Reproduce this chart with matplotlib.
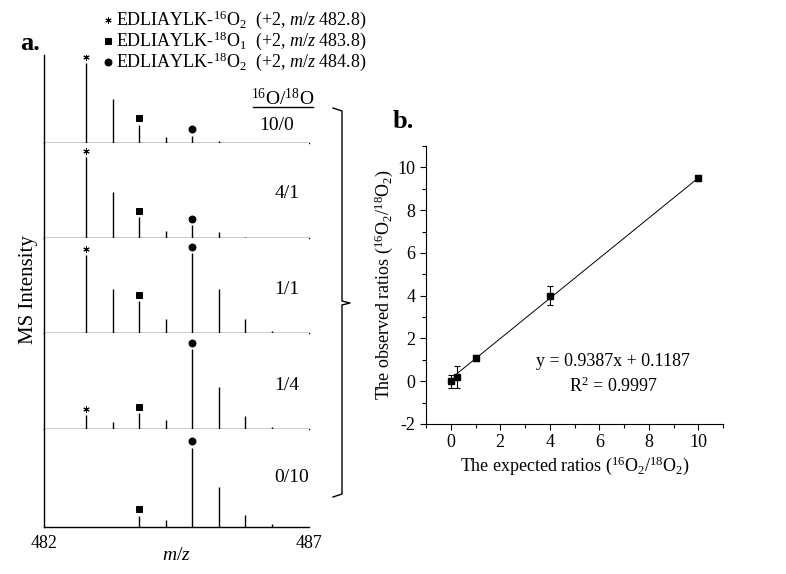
import numpy as np
import matplotlib.pyplot as plt
from matplotlib.lines import Line2D

plt.rcParams['font.family'] = 'Liberation Serif'
plt.rcParams['mathtext.fontset'] = 'custom'
plt.rcParams['mathtext.rm'] = 'Liberation Serif'
plt.rcParams['mathtext.it'] = 'Liberation Serif:italic'
plt.rcParams['mathtext.bf'] = 'Liberation Serif:bold'
plt.rcParams['axes.unicode_minus'] = False

# ---- data: panel a (isotope envelopes, relative intensity) ----
mz = [482.8, 483.3, 483.8, 484.3, 484.8, 485.3, 485.8, 486.3]
ratios = ['10/0', '4/1', '1/1', '1/4', '0/10']
intens = [
    [100, 55, 23, 7, 9, 2, 0, 0],
    [101, 57, 26, 9, 16, 7, 1, 0],
    [97, 55, 40, 17, 100, 55, 17, 2],
    [17, 9, 20, 11, 100, 52, 16, 2],
    [0, 0, 14, 9, 99, 50, 15, 4],
]
species = [r'EDLIAYLK-$^{16}$O$_2$  (+2, $m/z$ 482.8)',
           r'EDLIAYLK-$^{18}$O$_1$  (+2, $m/z$ 483.8)',
           r'EDLIAYLK-$^{18}$O$_2$  (+2, $m/z$ 484.8)']
species_mz = [482.8, 483.8, 484.8]
species_marker = [(6, 2, 0), 's', 'o']
species_size = [4.5, 4.5, 5]

# ---- data: panel b ----
expected = [0, 0.25, 1, 4, 10]
observed = [0.0, 0.2, 1.1, 4.0, 9.5]
obs_err = [0.3, 0.5, 0.15, 0.45, 0.15]
slope, intercept, r2 = 0.9387, 0.1187, 0.9997

W, H = 786, 574
fig = plt.figure(figsize=(W / 100, H / 100), dpi=100)

def fx(x):
    return x / W

def fy(y):
    return 1 - y / H

def ftext(x, y, s, **kw):
    fig.text(fx(x), fy(y), s, **kw)

# panel a: stacked spectra
edges = [55, 143, 238, 333, 429, 527]
left_px, right_px = 44, 309
for i in range(5):
    top, bot = edges[i], edges[i + 1]
    ax = fig.add_axes([fx(left_px), fy(bot), fx(right_px - left_px), (bot - top) / H])
    ymax = (bot - top) / 0.8
    ax.set_xlim(482, 487)
    ax.set_ylim(0, ymax)
    ax.vlines(mz, 0, intens[i], color='black', lw=1)
    for m, mk, ms in zip(species_mz, species_marker, species_size):
        k = mz.index(m)
        if intens[i][k] > 0:
            ax.plot(m, intens[i][k] + 8, marker=mk, color='black', ms=ms, mew=0.7)
    for s in ['top', 'right']:
        ax.spines[s].set_visible(False)
    ax.spines['left'].set_linewidth(1)
    ax.spines['bottom'].set_linewidth(1)
    ax.set_yticks([])
    if i == 4:
        ax.set_xticks([482, 487])
        ax.set_xticklabels(['482', '487'], fontsize=13)
        ax.tick_params(axis='x', length=0, pad=6)
        ax.set_xlabel(r'$m/z$', fontsize=14, labelpad=-4)
    else:
        ax.set_xticks([])

label_pos = [(277, 125), (287, 193), (287, 290), (287, 385), (292, 477)]
for r, (x, y) in zip(ratios, label_pos):
    ftext(x, y, r, fontsize=14, ha='center', va='center')
ftext(283, 98, r'$^{16}$O/$^{18}$O', fontsize=14, ha='center', va='center')
fig.add_artist(Line2D([fx(253), fx(313)], [fy(107), fy(107)], color='black', lw=1,
                      transform=fig.transFigure))

# legend for species
for j, (lab, mk, ms) in enumerate(zip(species, species_marker, species_size)):
    y = 20 + 21 * j
    fig.add_artist(Line2D([fx(108)], [fy(y)], marker=mk, color='black', ms=ms, mew=0.7,
                          transform=fig.transFigure))
    ftext(116, y, lab, fontsize=13, ha='left', va='center')

ftext(20, 44, 'a.', fontsize=19, fontweight='bold', ha='left', va='center')
ftext(393, 122, 'b.', fontsize=19, fontweight='bold', ha='left', va='center')
ftext(28, 290, 'MS Intensity', fontsize=15, rotation=90, ha='center', va='center')

# bracket
bx = [333, 342, 342, 350, 342, 342, 333]
by = [108, 111, 301, 303, 305, 494, 497]
fig.add_artist(Line2D([fx(v) for v in bx], [fy(v) for v in by], color='black', lw=1,
                      transform=fig.transFigure))

# panel b: calibration
axb = fig.add_axes([fx(426), fy(424), fx(723 - 426), (424 - 146) / H])
axb.errorbar(expected, observed, yerr=obs_err, fmt='s', color='black', ms=5,
             capsize=2, elinewidth=0.8, capthick=0.8)
xf = np.array([expected[1], expected[-1]])
axb.plot(xf, slope * xf + intercept, color='black', lw=0.7)
axb.set_xlim(-1, 11)
axb.set_ylim(-2, 11)
axb.set_xticks([0, 2, 4, 6, 8, 10])
axb.set_xticks(np.arange(-1, 12, 1), minor=True)
axb.set_yticks([-2, 0, 2, 4, 6, 8, 10])
axb.set_yticks(np.arange(-2, 12, 1), minor=True)
axb.tick_params(which='both', direction='out', labelsize=13, width=0.8)
axb.tick_params(which='major', length=4)
axb.tick_params(which='minor', length=3)
for s in ['top', 'right']:
    axb.spines[s].set_visible(False)
axb.set_xlabel(r'The expected ratios ($^{16}$O$_2$/$^{18}$O$_2$)', fontsize=13, labelpad=2)
axb.set_ylabel(r'The observed ratios ($^{16}$O$_2$/$^{18}$O$_2$)', fontsize=13, labelpad=2)
axb.text(0.63, 0.225, 'y = %.4fx + %.4f' % (slope, intercept), transform=axb.transAxes,
         fontsize=13, ha='center', va='center')
axb.text(0.63, 0.137, r'R$^2$ = %.4f' % r2, transform=axb.transAxes,
         fontsize=13, ha='center', va='center')

fig.savefig('out.png', dpi=100)
